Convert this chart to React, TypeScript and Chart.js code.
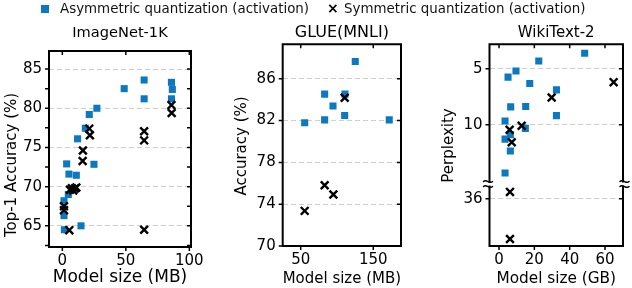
import React, { useEffect, useRef } from 'react';
import { Chart, registerables } from 'chart.js';

Chart.register(...registerables);

const FONT = '"DejaVu Sans", "Liberation Sans", sans-serif';
const BLUE = '#0b78bf';

// ---------- ImageNet-1K ----------
const imagenetAsymSize = [48.7, 64.4, 64.4, 85.9, 86.6, 85.9, 27.2, 21.2, 18.1, 12.0, 3.4, 24.9, 5.2, 11.0, 4.7, 1.3, 1.3, 1.6, 14.7];
const imagenetAsymAcc = [82.5, 83.6, 81.2, 83.3, 82.4, 81.2, 80.0, 79.2, 77.45, 76.1, 72.9, 72.85, 71.6, 71.45, 69.0, 68.2, 66.3, 64.5, 65.0];
const imagenetSymSize = [85.9, 86.1, 64.4, 64.4, 64.4, 21.2, 21.7, 16.2, 16.0, 6.0, 7.5, 9.9, 11.0, 8.6, 1.3, 1.3, 5.5];
const imagenetSymAcc = [80.4, 79.4, 77.07, 75.9, 64.5, 77.4, 76.56, 74.6, 73.27, 69.6, 69.8, 69.77, 69.9, 69.5, 67.5, 67.0, 64.45];
const imagenetXTicks = [0, 50, 100];
const imagenetYTicks = [62.5, 65, 67.5, 70, 72.5, 75, 77.5, 80, 82.5, 85];
const imagenetYLabelled = [65, 70, 75, 80, 85];

// ---------- GLUE(MNLI) ----------
const glueAsymSize = [125.2, 83.0, 111.0, 94.5, 83.0, 110.6, 55.5, 172.0];
const glueAsymAcc = [87.66, 84.53, 84.53, 83.4, 82.07, 82.49, 81.79, 82.07];
const glueSymSize = [110.6, 83.0, 95.0, 55.5];
const glueSymAcc = [84.18, 75.82, 74.92, 73.36];
const glueXTicks = [50, 150];
const glueYTicks = [70, 74, 78, 82, 86];

// ---------- WikiText-2 ----------
const wikiAsymSize = [48.5, 22.5, 9.6, 5.1, 17.4, 32.5, 6.6, 15.1, 32.5, 3.4, 14.9, 6.4, 3.4, 6.4, 3.4];
const wikiAsymPpl = [3.62, 4.31, 5.21, 5.75, 6.32, 6.89, 8.41, 8.38, 9.19, 9.67, 10.33, 10.9, 11.29, 12.34, 14.31];
const wikiSymSize = [64.9, 29.8, 12.8, 6.0, 7.2, 6.2, 6.2];
const wikiSymPpl = [6.2, 7.57, 10.09, 10.45, 11.56, 35.4, 39.6];
const wikiXTicks = [0, 20, 40, 60];
const wikiYTicks = [5, 10, 36];

// broken perplexity axis
const WIKI_BREAK = 15.3;
const WIKI_LOWER_START = 34.7;
const toWikiAxis = (p: number) => (p <= WIKI_BREAK ? p : WIKI_BREAK + (p - WIKI_LOWER_START));

const zip = (xs: number[], ys: number[], f: (v: number) => number = (v) => v) =>
  xs.map((x, i) => ({ x, y: f(ys[i]) }));

const H = 288;
const TITLE_CENTER = 33;
const TICK_SIZE = 15;
const YTITLE_SIZE = 15;

const framePlugin = {
  id: 'frame',
  afterDraw(chart: any, _args: any, opts: any) {
    const { ctx } = chart;
    const { left, right, top, bottom } = chart.chartArea;
    const xs = chart.scales.x;
    const ys = chart.scales.y;
    const tl = 4;
    ctx.save();
    ctx.strokeStyle = '#000';
    ctx.lineWidth = 1.5;
    ctx.beginPath();
    xs.ticks.forEach((t: any) => {
      const px = xs.getPixelForValue(t.value);
      ctx.moveTo(px, bottom);
      ctx.lineTo(px, bottom + tl);
      ctx.moveTo(px, top);
      ctx.lineTo(px, top + tl);
    });
    ys.ticks.forEach((t: any) => {
      const py = ys.getPixelForValue(t.value);
      ctx.moveTo(left, py);
      ctx.lineTo(left - tl, py);
      ctx.moveTo(right, py);
      ctx.lineTo(right - tl, py);
    });
    ctx.stroke();

    ctx.lineWidth = 2;
    ctx.lineCap = 'square';
    ctx.beginPath();
    ctx.moveTo(left, top);
    ctx.lineTo(right, top);
    ctx.moveTo(left, bottom);
    ctx.lineTo(right, bottom);
    if (opts && typeof opts.breakAt === 'number') {
      const yb = ys.getPixelForValue(opts.breakAt);
      const g = 2.5;
      ctx.moveTo(left, top);
      ctx.lineTo(left, yb - g);
      ctx.moveTo(left, yb + g);
      ctx.lineTo(left, bottom);
      ctx.moveTo(right, top);
      ctx.lineTo(right, yb - g);
      ctx.moveTo(right, yb + g);
      ctx.lineTo(right, bottom);
      ctx.stroke();
      ctx.lineWidth = 1.5;
      ctx.lineCap = 'round';
      ctx.beginPath();
      [left, right].forEach((x0, k) => {
        const a = k === 0 ? x0 - 6 : x0 - 3;
        const b = k === 0 ? x0 + 3 : x0 + 6;
        ctx.moveTo(a, yb - g);
        ctx.bezierCurveTo(a + 3, yb - g - 3, b - 3, yb - g + 3, b, yb - g);
        ctx.moveTo(a, yb + g);
        ctx.bezierCurveTo(a + 3, yb + g - 3, b - 3, yb + g + 3, b, yb + g);
      });
      ctx.stroke();
    } else {
      ctx.moveTo(left, top);
      ctx.lineTo(left, bottom);
      ctx.moveTo(right, top);
      ctx.lineTo(right, bottom);
      ctx.stroke();
    }

    // y-axis title
    if (opts && opts.yTitle) {
      ctx.translate(opts.yTitleX, opts.yTitleY);
      ctx.rotate(-Math.PI / 2);
      ctx.fillStyle = '#000';
      ctx.font = `${YTITLE_SIZE}px ${FONT}`;
      ctx.textAlign = 'center';
      ctx.textBaseline = 'middle';
      ctx.fillText(opts.yTitle, 0, 0);
    }
    ctx.restore();
  },
};

interface PanelSpec {
  left: number;
  width: number;
  plotLeft: number;
  plotRight: number;
  plotTop: number;
  plotBottom: number;
  yTitleX: number;
  yTitleY: number;
  title: string;
  titleSize: number;
  xTitle: string;
  xTitleSize: number;
  yTitle: string;
  xMin: number;
  xMax: number;
  yMin: number;
  yMax: number;
  reverse?: boolean;
  xTicks: number[];
  yTicks: number[];
  yLabel: (v: number, i: number) => string;
  yGrid: (v: number) => boolean;
  asym: { x: number; y: number }[];
  sym: { x: number; y: number }[];
  breakAt?: number;
}

function Panel({ spec }: { spec: PanelSpec }) {
  const ref = useRef<HTMLCanvasElement>(null);
  useEffect(() => {
    if (!ref.current) return;
    const titleLH = spec.titleSize * 1.2;
    const tPadTop = TITLE_CENTER - titleLH / 2;
    const tPadBottom = spec.plotTop - tPadTop - titleLH;
    const chart = new Chart(ref.current, {
      type: 'scatter',
      data: {
        datasets: [
          {
            label: 'Symmetric quantization (activation)',
            data: spec.sym,
            pointStyle: 'crossRot',
            pointRadius: 5.5,
            pointHoverRadius: 5.5,
            borderColor: '#000',
            backgroundColor: '#000',
            borderWidth: 2.4,
          },
          {
            label: 'Asymmetric quantization (activation)',
            data: spec.asym,
            pointStyle: 'rect',
            pointRadius: 5,
            pointHoverRadius: 5,
            borderColor: BLUE,
            backgroundColor: BLUE,
            borderWidth: 0,
          },
        ],
      },
      options: {
        responsive: false,
        animation: false,
        events: [],
        layout: {
          padding: { left: 0, top: 0, bottom: 0, right: spec.width - (spec.plotRight - spec.left) },
        },
        plugins: {
          legend: { display: false },
          tooltip: { enabled: false },
          title: {
            display: true,
            text: spec.title,
            color: '#000',
            fullSize: false,
            font: { family: FONT, size: spec.titleSize, weight: 'normal', lineHeight: 1.2 },
            padding: { top: tPadTop, bottom: tPadBottom },
          },
          frame: {
            breakAt: spec.breakAt,
            yTitle: spec.yTitle,
            yTitleX: spec.yTitleX - spec.left,
            yTitleY: spec.yTitleY,
          },
        } as any,
        scales: {
          x: {
            type: 'linear',
            position: 'bottom',
            min: spec.xMin,
            max: spec.xMax,
            afterBuildTicks: (s: any) => {
              s.ticks = spec.xTicks.map((v) => ({ value: v }));
            },
            afterFit: (s: any) => {
              s.height = H - spec.plotBottom;
              s.paddingLeft = 0;
              s.paddingRight = 0;
            },
            grid: { display: false, drawTicks: false },
            border: { display: false },
            ticks: {
              color: '#000',
              autoSkip: false,
              maxRotation: 0,
              padding: 5,
              font: { family: FONT, size: TICK_SIZE, lineHeight: 1.2 },
              callback: (v: any) => String(v),
            },
            title: {
              display: true,
              text: spec.xTitle,
              color: '#000',
              font: { family: FONT, size: spec.xTitleSize, lineHeight: 1.2 },
              padding: { top: 0, bottom: 0 },
            },
          },
          y: {
            type: 'linear',
            position: 'left',
            min: spec.yMin,
            max: spec.yMax,
            reverse: !!spec.reverse,
            afterBuildTicks: (s: any) => {
              s.ticks = spec.yTicks.map((v) => ({ value: v }));
            },
            afterFit: (s: any) => {
              s.width = spec.plotLeft - spec.left;
              s.paddingTop = 0;
              s.paddingBottom = 0;
            },
            grid: {
              drawTicks: false,
              lineWidth: 1,
              color: (c: any) => (c.tick && spec.yGrid(c.tick.value) ? '#cfcfcf' : 'rgba(0,0,0,0)'),
            },
            border: { display: false, dash: [5, 3] },
            ticks: {
              color: '#000',
              autoSkip: false,
              padding: 7,
              font: { family: FONT, size: TICK_SIZE, lineHeight: 1.2 },
              callback: (v: any, i: number) => spec.yLabel(Number(v), i),
            },
            title: { display: false },
          },
        },
      } as any,
      plugins: [framePlugin as any],
    });
    return () => chart.destroy();
  }, [spec]);
  return (
    <canvas
      ref={ref}
      width={spec.width}
      height={H}
      style={{ position: 'absolute', left: spec.left, top: 0, width: spec.width, height: H }}
    />
  );
}

const panels: PanelSpec[] = [
  {
    left: 0,
    width: 205,
    plotLeft: 49,
    plotRight: 191,
    plotTop: 51,
    plotBottom: 247,
    yTitleX: 12,
    yTitleY: 165,
    title: 'ImageNet-1K',
    titleSize: 14.6,
    xTitle: 'Model size (MB)',
    xTitleSize: 17,
    yTitle: 'Top-1 Accuracy (%)',
    xMin: -10.5,
    xMax: 101.3,
    yMin: 62.3,
    yMax: 87.3,
    xTicks: imagenetXTicks,
    yTicks: imagenetYTicks,
    yLabel: (v) => (imagenetYLabelled.includes(v) ? String(v) : ''),
    yGrid: (v) => imagenetYLabelled.includes(v),
    asym: zip(imagenetAsymSize, imagenetAsymAcc),
    sym: zip(imagenetSymSize, imagenetSymAcc),
  },
  {
    left: 222,
    width: 193,
    plotLeft: 282.7,
    plotRight: 401,
    plotTop: 44.3,
    plotBottom: 246,
    yTitleX: 241.7,
    yTitleY: 146,
    title: 'GLUE(MNLI)',
    titleSize: 16,
    xTitle: 'Model size (MB)',
    xTitleSize: 15,
    yTitle: 'Accuracy (%)',
    xMin: 25.2,
    xMax: 188.2,
    yMin: 70,
    yMax: 89.3,
    xTicks: glueXTicks,
    yTicks: glueYTicks,
    yLabel: (v) => String(v),
    yGrid: (v) => v !== 70,
    asym: zip(glueAsymSize, glueAsymAcc),
    sym: zip(glueSymSize, glueSymAcc),
  },
  {
    left: 432,
    width: 200,
    plotLeft: 489.5,
    plotRight: 623,
    plotTop: 44.3,
    plotBottom: 246,
    yTitleX: 449.3,
    yTitleY: 145.5,
    title: 'WikiText-2',
    titleSize: 15,
    xTitle: 'Model size (GB)',
    xTitleSize: 15.3,
    yTitle: 'Perplexity',
    xMin: -5.4,
    xMax: 70.2,
    yMin: 2.82,
    yMax: 20.83,
    reverse: true,
    xTicks: wikiXTicks,
    yTicks: wikiYTicks.map(toWikiAxis),
    yLabel: (_v, i) => String(wikiYTicks[i]),
    yGrid: () => true,
    asym: zip(wikiAsymSize, wikiAsymPpl, toWikiAxis),
    sym: zip(wikiSymSize, wikiSymPpl, toWikiAxis),
    breakAt: WIKI_BREAK,
  },
];

export default function App() {
  const legendText: React.CSSProperties = {
    position: 'absolute',
    top: 1,
    font: `13.4px ${FONT}`,
    lineHeight: '16px',
    color: '#111',
    whiteSpace: 'nowrap',
  };
  return (
    <div style={{ position: 'absolute', left: 0, top: 0, width: 632, height: 288, background: '#fff', overflow: 'hidden' }}>
      {panels.map((p, i) => (
        <Panel key={i} spec={p} />
      ))}
      <div style={{ position: 'absolute', left: 41, top: 5, width: 8, height: 8, background: BLUE }} />
      <span style={{ ...legendText, left: 60 }}>Asymmetric quantization (activation)</span>
      <span style={{ ...legendText, left: 327, top: 0, font: `bold 14px ${FONT}`, color: '#000' }}>×</span>
      <span style={{ ...legendText, left: 344 }}>Symmetric quantization (activation)</span>
    </div>
  );
}
